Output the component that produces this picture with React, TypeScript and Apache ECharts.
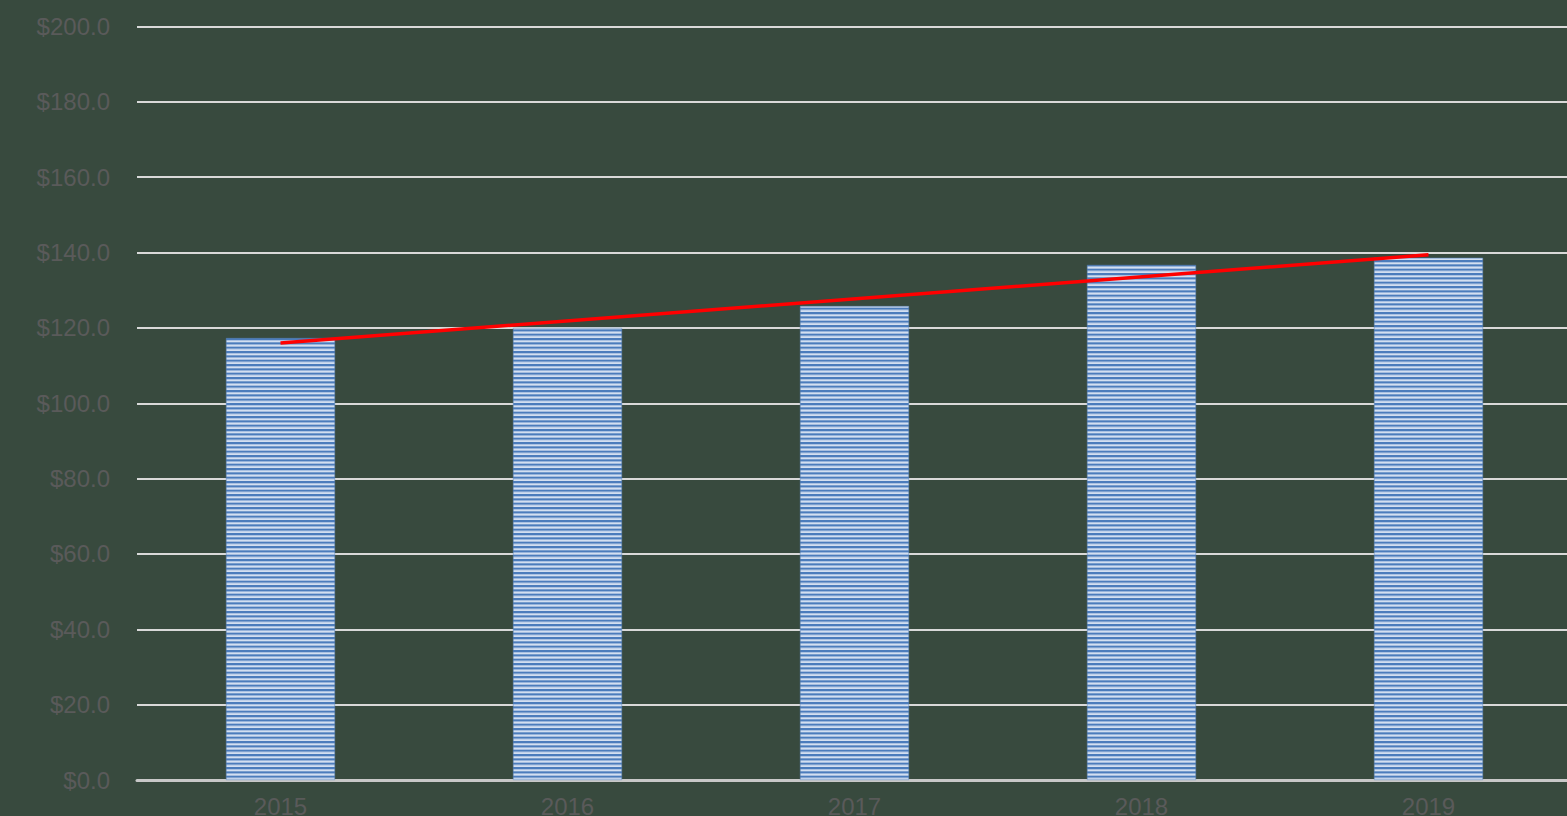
import React, { useEffect, useRef } from "react";
import * as echarts from "echarts";

const years = ["2015", "2016", "2017", "2018", "2019"];
const values = [117.3, 120.0, 125.8, 136.7, 138.6];
// Trendline endpoints (first and last year)
const trendValues: (number | string)[] = [116.0, "-", "-", "-", 139.4];
const yTicks = { min: 0, max: 200, interval: 20 };

function makeStripe(): HTMLCanvasElement {
  const c = document.createElement("canvas");
  c.width = 4;
  c.height = 13;
  const ctx = c.getContext("2d")!;
  ctx.fillStyle = "#d3dff0";
  ctx.fillRect(0, 0, 4, 13);
  const period = 13 / 3;
  ctx.fillStyle = "#4b7cbc";
  for (let i = 0; i < 3; i++) {
    ctx.fillRect(0, i * period, 4, 2.0);
  }
  ctx.fillStyle = "#8eaed9";
  for (let i = 0; i < 3; i++) {
    ctx.fillRect(0, i * period + 2.0, 4, 0.6);
  }
  return c;
}

export default function App() {
  const ref = useRef<HTMLDivElement>(null);
  useEffect(() => {
    if (!ref.current) return;
    const chart = echarts.init(ref.current, undefined, { renderer: "svg" });
    const stripe = makeStripe();
    chart.setOption({
      animation: false,
      backgroundColor: "#384a3e",
      grid: {
        left: 137,
        top: 26.5,
        width: 1435,
        height: 753.5,
        containLabel: false,
        outerBoundsMode: "none",
      },
      xAxis: {
        type: "category",
        data: years,
        axisLine: { show: true, lineStyle: { color: "#c8c8c8", width: 3 } },
        axisTick: { show: false },
        axisLabel: {
          color: "#5a5a5a",
          fontSize: 24,
          fontFamily: "Liberation Sans, Arial, sans-serif",
          margin: 14,
        },
      },
      yAxis: {
        type: "value",
        min: yTicks.min,
        max: yTicks.max,
        interval: yTicks.interval,
        axisLine: { show: false },
        axisTick: { show: false },
        axisLabel: {
          color: "#5a5a5a",
          fontSize: 24,
          fontFamily: "Liberation Sans, Arial, sans-serif",
          margin: 27,
          formatter: (v: number) => "$" + v.toFixed(1),
        },
        splitLine: { show: true, lineStyle: { color: "#d9d9d9", width: 2 } },
      },
      series: [
        {
          type: "bar",
          data: values,
          barWidth: 109,
          itemStyle: {
            color: { image: stripe, repeat: "repeat" } as any,
            borderColor: "#5a86c0",
            borderWidth: 0.5,
          },
          z: 2,
        },
        {
          type: "line",
          data: trendValues,
          connectNulls: true,
          symbol: "none",
          lineStyle: { color: "#ff0000", width: 3.5 },
          z: 5,
        },
      ],
    });
    return () => chart.dispose();
  }, []);
  return (
    <div
      ref={ref}
      style={{ position: "fixed", left: 0, top: 0, width: 1567, height: 816 }}
    />
  );
}
